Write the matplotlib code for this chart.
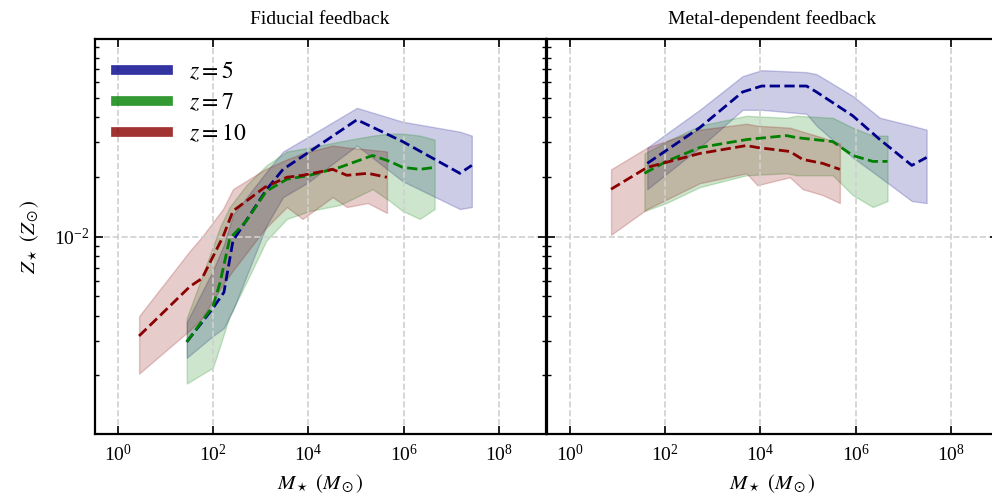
import matplotlib
matplotlib.use('Agg')
import matplotlib.pyplot as plt
from matplotlib.lines import Line2D
from matplotlib.ticker import LogLocator, NullLocator, NullFormatter
import numpy as np

plt.rcParams['font.family'] = 'serif'
plt.rcParams['font.serif'] = ['Liberation Serif', 'DejaVu Serif']
plt.rcParams['mathtext.fontset'] = 'stix'

# log10(M*/Msun) and log10(Z*/Zsun): median, lower and upper percentiles
# --- Fiducial feedback ---
fid_z5_logm = [1.45, 2.00, 2.23, 2.42, 3.13, 3.47, 3.97, 5.02, 5.98, 7.18, 7.43]
fid_z5_med = [-2.53, -2.36, -2.28, -2.02, -1.76, -1.66, -1.58, -1.41, -1.52, -1.68, -1.64]
fid_z5_lo = [-2.61, -2.50, -2.46, -2.37, -1.94, -1.80, -1.73, -1.54, -1.72, -1.86, -1.85]
fid_z5_hi = [-2.43, -2.17, -2.04, -1.89, -1.67, -1.57, -1.50, -1.35, -1.42, -1.47, -1.49]

fid_z7_logm = [1.45, 2.00, 2.15, 2.35, 2.70, 3.12, 3.55, 4.03, 4.66, 5.35, 5.71, 5.98, 6.34, 6.65]
fid_z7_med = [-2.53, -2.35, -2.23, -2.01, -1.92, -1.77, -1.71, -1.69, -1.65, -1.59, -1.62, -1.65, -1.66, -1.65]
fid_z7_lo = [-2.74, -2.66, -2.55, -2.40, -2.23, -2.02, -1.91, -1.87, -1.84, -1.76, -1.82, -1.87, -1.91, -1.86]
fid_z7_hi = [-2.41, -2.05, -1.95, -1.85, -1.74, -1.64, -1.57, -1.55, -1.52, -1.49, -1.48, -1.48, -1.49, -1.51]

fid_z10_logm = [0.45, 1.52, 1.77, 2.21, 2.42, 3.09, 3.55, 3.88, 4.51, 4.81, 5.25, 5.65]
fid_z10_med = [-2.50, -2.25, -2.21, -2.00, -1.87, -1.75, -1.70, -1.69, -1.66, -1.69, -1.68, -1.70]
fid_z10_lo = [-2.69, -2.47, -2.41, -2.24, -2.17, -1.96, -1.85, -1.91, -1.80, -1.85, -1.83, -1.88]
fid_z10_hi = [-2.40, -2.07, -2.00, -1.86, -1.76, -1.66, -1.61, -1.58, -1.54, -1.55, -1.56, -1.57]

# --- Metal-dependent feedback ---
met_z5_logm = [1.63, 2.73, 3.63, 4.03, 4.97, 5.18, 5.94, 6.51, 7.18, 7.49]
met_z5_med = [-1.63, -1.45, -1.27, -1.24, -1.24, -1.27, -1.39, -1.51, -1.64, -1.60]
met_z5_lo = [-1.76, -1.55, -1.36, -1.36, -1.38, -1.44, -1.60, -1.70, -1.82, -1.83]
met_z5_hi = [-1.55, -1.36, -1.19, -1.16, -1.17, -1.18, -1.29, -1.40, -1.44, -1.46]

met_z7_logm = [1.57, 2.03, 2.73, 3.71, 4.55, 4.76, 5.52, 5.94, 6.36, 6.67]
met_z7_med = [-1.68, -1.62, -1.55, -1.51, -1.49, -1.50, -1.52, -1.59, -1.62, -1.62]
met_z7_lo = [-1.87, -1.83, -1.75, -1.69, -1.68, -1.69, -1.69, -1.79, -1.85, -1.82]
met_z7_hi = [-1.58, -1.52, -1.44, -1.39, -1.40, -1.39, -1.40, -1.45, -1.49, -1.49]

met_z10_logm = [0.87, 1.63, 2.73, 3.71, 3.94, 4.62, 4.89, 5.31, 5.67]
met_z10_med = [-1.76, -1.65, -1.58, -1.54, -1.55, -1.57, -1.61, -1.63, -1.66]
met_z10_lo = [-1.99, -1.86, -1.73, -1.68, -1.74, -1.70, -1.76, -1.79, -1.83]
met_z10_hi = [-1.66, -1.55, -1.46, -1.43, -1.44, -1.45, -1.47, -1.50, -1.53]

redshifts = [5, 7, 10]
colors = ['darkblue', 'green', 'darkred']
titles = ['Fiducial feedback', 'Metal-dependent feedback']

panels = [
    [(fid_z5_logm, fid_z5_med, fid_z5_lo, fid_z5_hi),
     (fid_z7_logm, fid_z7_med, fid_z7_lo, fid_z7_hi),
     (fid_z10_logm, fid_z10_med, fid_z10_lo, fid_z10_hi)],
    [(met_z5_logm, met_z5_med, met_z5_lo, met_z5_hi),
     (met_z7_logm, met_z7_med, met_z7_lo, met_z7_hi),
     (met_z10_logm, met_z10_med, met_z10_lo, met_z10_hi)],
]

fig = plt.figure(figsize=(9.92, 5.03), dpi=100)
ax1 = fig.add_axes([0.0955, 0.1366, 0.4546, 0.7853])
ax2 = fig.add_axes([0.5511, 0.1366, 0.4546, 0.7853])

for ax, data, title in zip([ax1, ax2], panels, titles):
    for (lm, med, lo, hi), c in zip(data, colors):
        m = 10 ** np.array(lm)
        ax.fill_between(m, 10 ** np.array(lo), 10 ** np.array(hi), color=c, alpha=0.2, lw=1)
        ax.plot(m, 10 ** np.array(med), color=c, ls='--', lw=2)
    ax.set_xscale('log')
    ax.set_yscale('log')
    ax.set_xlim(10 ** -0.48, 10 ** 8.98)
    ax.set_ylim(1.01e-3, 0.099)
    ax.set_xticks([1, 1e2, 1e4, 1e6, 1e8])
    ax.xaxis.set_minor_locator(NullLocator())
    ax.yaxis.set_minor_locator(LogLocator(base=10, subs=np.arange(2, 10)))
    ax.yaxis.set_minor_formatter(NullFormatter())
    ax.tick_params(which='both', direction='in', top=True, right=True, labelsize=14)
    ax.tick_params(which='major', length=6, width=1.2)
    ax.tick_params(which='minor', length=3, width=1)
    ax.tick_params(axis='x', pad=7)
    ax.grid(True, which='major', color='#d0d0d0', ls='--', lw=1.2)
    for s in ax.spines.values():
        s.set_linewidth(1.6)
    ax.set_title(title, fontsize=14, pad=11)
    ax.set_xlabel(r'$M_\star\ (M_\odot)$', fontsize=15, labelpad=5)

ax2.tick_params(labelleft=False)
ax1.set_ylabel(r'$Z_\star\ (Z_\odot)$', fontsize=15, labelpad=10)

handles = [Line2D([], [], color=c, lw=7, alpha=0.8) for c in colors]
labels = [r'$z = %d$' % z for z in redshifts]
ax1.legend(handles, labels, loc='upper left', frameon=False, fontsize=17,
           handlelength=2.2, handletextpad=0.9, labelspacing=0.4)

fig.savefig('out.png', dpi=100)
